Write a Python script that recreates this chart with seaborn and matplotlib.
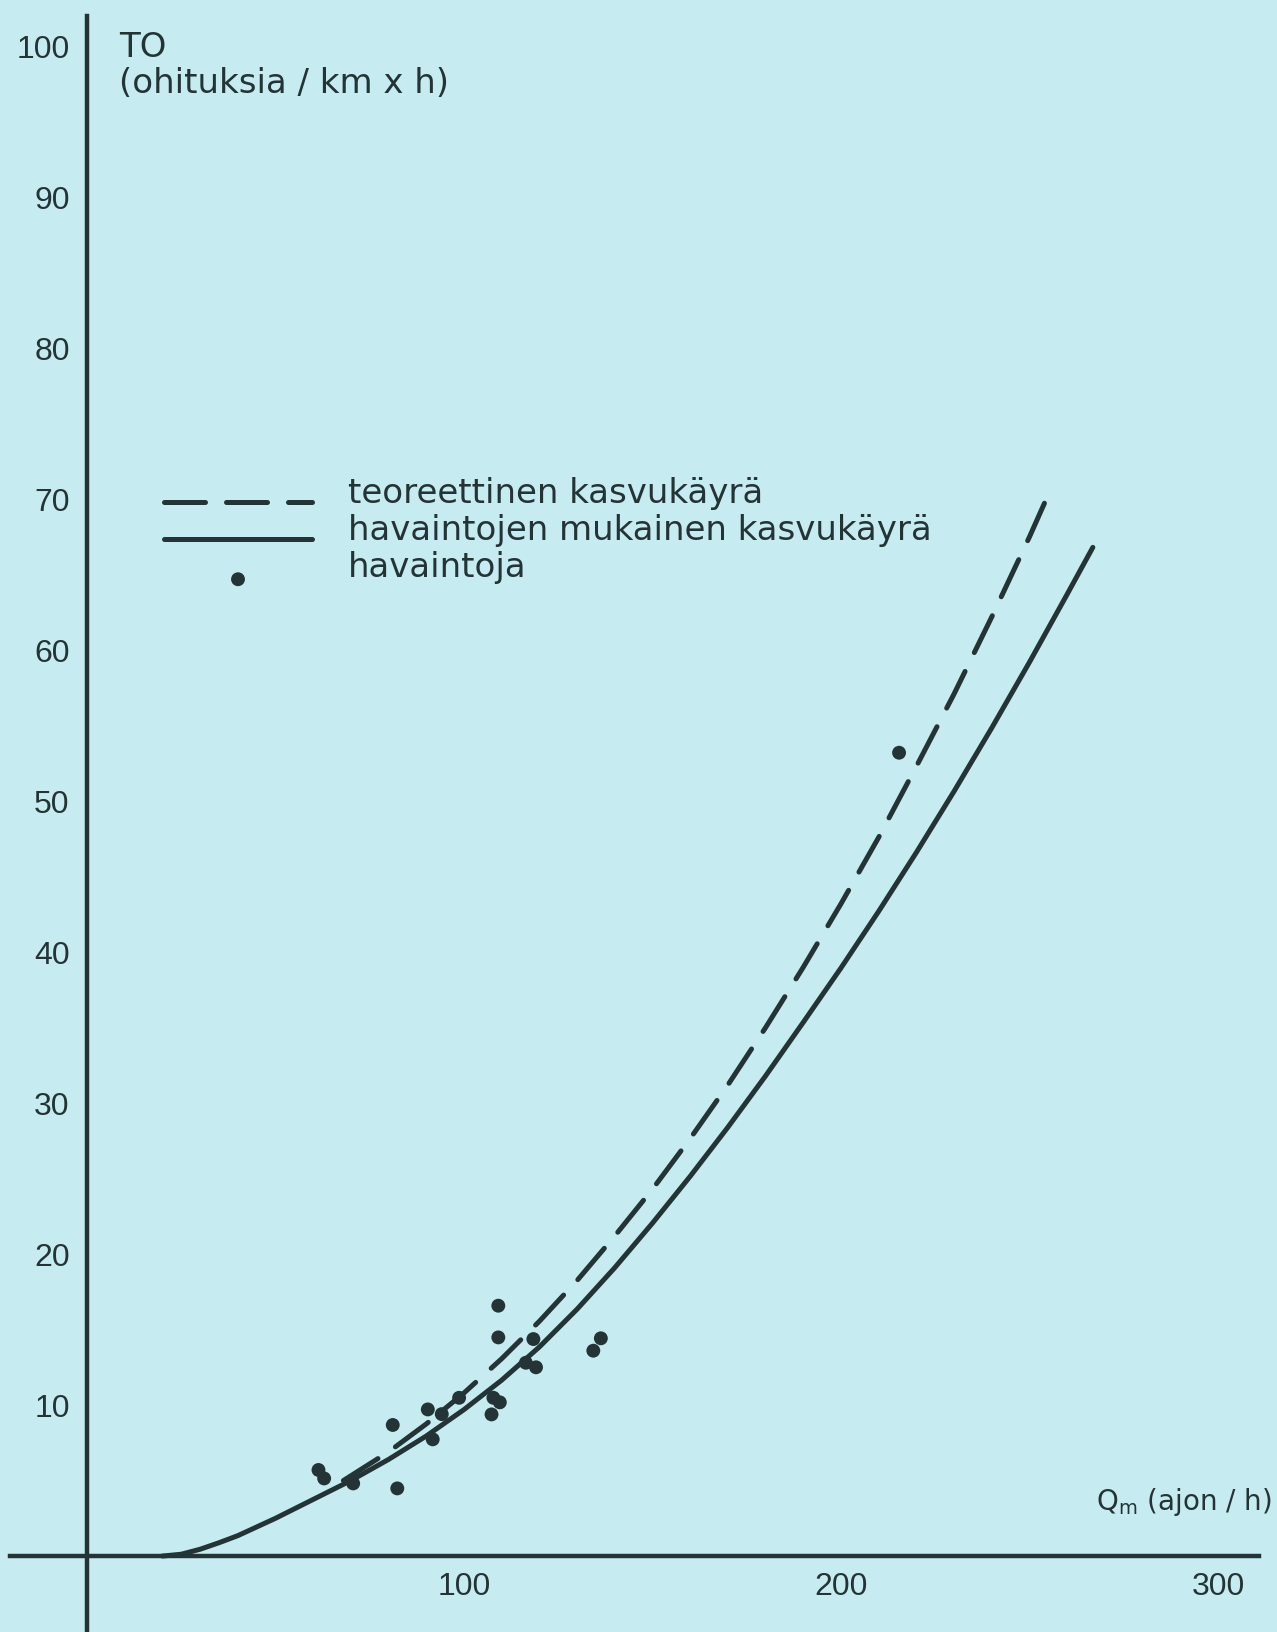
import matplotlib
matplotlib.use("Agg")
import matplotlib.pyplot as plt
import matplotlib.transforms as mtransforms
import seaborn as sns
import pandas as pd

# Observed passings per km and hour vs. traffic flow
obs_q = [61.4, 62.9, 70.6, 82.3, 81.1, 90.4, 94.1, 91.7, 98.7, 109.1,
         109.1, 107.8, 109.5, 107.3, 118.4, 116.4, 119.1, 136.3, 134.3, 215.4]
obs_to = [5.70, 5.14, 4.81, 4.48, 8.68, 9.71, 9.40, 7.73, 10.48, 16.58,
          14.48, 10.48, 10.18, 9.38, 14.37, 12.80, 12.50, 14.42, 13.60, 53.2]

# Growth curve fitted to the observations
fit_q = [20, 25, 30, 35, 40, 50, 60, 70, 80, 90, 100, 110, 120, 130, 140,
         150, 160, 170, 180, 190, 200, 210, 220, 230, 240, 250, 260, 266.8]
fit_to = [0.0, 0.12, 0.45, 0.88, 1.35, 2.5, 3.75, 5.0, 6.4, 7.95, 9.7, 11.65,
          13.85, 16.35, 19.1, 22.05, 25.15, 28.4, 31.8, 35.35, 38.95, 42.7,
          46.6, 50.65, 54.85, 59.2, 63.7, 66.8]

# Theoretical growth curve
theo_q = [68, 80, 90, 100, 110, 120, 130, 140, 150, 160, 170, 180, 190, 200,
          210, 220, 230, 240, 250, 254.1]
theo_to = [5.0, 6.9, 8.75, 10.8, 13.07, 15.55, 18.25, 21.2, 24.3, 27.65, 31.2,
           35.0, 39.0, 43.2, 47.6, 52.3, 57.1, 62.2, 67.5, 69.8]

y_ticks = [10, 20, 30, 40, 50, 60, 70, 80, 90, 100]
x_ticks = [100, 200, 300]

legend_labels = ["teoreettinen kasvukäyrä",
                 "havaintojen mukainen kasvukäyrä",
                 "havaintoja"]
y_title = "TO\n(ohituksia / km x h)"
x_title = "Q$_\\mathregular{m}$ (ajon / h)"

BG = "#c6ecf1"
INK = "#243436"

sns.set_theme(style="white")
plt.rcParams["font.family"] = ["DejaVu Sans"]

fig = plt.figure(figsize=(12.77, 16.32), dpi=100, facecolor=BG)
ax = fig.add_axes([0, 0, 1, 1], facecolor=BG)

ax.set_xlim(-23.08, 315.65)
ax.set_ylim(-5.03, 103.05)

theo_df = pd.DataFrame({"Q": theo_q, "TO": theo_to})
fit_df = pd.DataFrame({"Q": fit_q, "TO": fit_to})
obs_df = pd.DataFrame({"Q": obs_q, "TO": obs_to})

sns.lineplot(data=theo_df, x="Q", y="TO", ax=ax, color=INK, lw=3.6,
             estimator=None, sort=False, linestyle=(0, (8.2, 4.2)),
             dash_capstyle="round", label=legend_labels[0])
sns.lineplot(data=fit_df, x="Q", y="TO", ax=ax, color=INK, lw=3.6,
             estimator=None, sort=False, solid_capstyle="round",
             label=legend_labels[1])
sns.scatterplot(data=obs_df, x="Q", y="TO", ax=ax, color=INK, s=100,
                edgecolor="none", label=legend_labels[2], zorder=3)

# Axes crossing at the origin
for side in ("top", "right"):
    ax.spines[side].set_visible(False)
ax.spines["left"].set_position(("data", 0))
ax.spines["bottom"].set_position(("data", 0))
ax.spines["left"].set_bounds(-5.03, 102.0)
ax.spines["bottom"].set_bounds(-20.4, 311.0)
for side in ("left", "bottom"):
    ax.spines[side].set_color(INK)
    ax.spines[side].set_linewidth(3.2)

ax.set_xticks(x_ticks)
ax.set_yticks(y_ticks)
ax.tick_params(axis="both", direction="inout", length=19, width=2.0,
               color=INK, labelcolor=INK, labelsize=23)
ax.tick_params(axis="y", pad=3)
ax.tick_params(axis="x", pad=2)
for lab in ax.get_xticklabels() + ax.get_yticklabels():
    lab.set_family(["Liberation Sans", "DejaVu Sans"])
ax.set_xlabel("")
ax.set_ylabel("")

ax.text(8.5, 101.0, y_title, ha="left", va="top", fontsize=24.5,
        color=INK, linespacing=1.1)
ax.text(314.3, 3.55, x_title, ha="right", va="center", fontsize=20,
        color=INK)

leg = ax.legend(loc="upper left", bbox_to_anchor=(164 / 1277, 1 - 488 / 1632),
                frameon=False, fontsize=24.5, handlelength=4.35,
                handletextpad=1.05, labelspacing=0.12, borderpad=0,
                borderaxespad=0, labelcolor=INK)
# Labels sit a little above their keys
lift = mtransforms.ScaledTranslation(0, 11 / 100, fig.dpi_scale_trans)
for t in leg.get_texts():
    t.set_transform(t.get_transform() + lift)

fig.savefig("out.png", dpi=100, facecolor=BG)
